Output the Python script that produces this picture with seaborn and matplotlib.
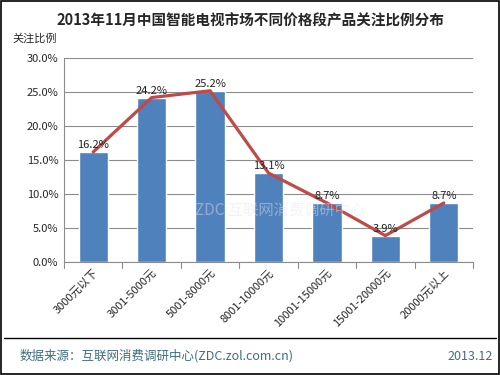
import numpy as np
import pandas as pd
import matplotlib.pyplot as plt
import seaborn as sns

categories = ["3000元以下", "3001-5000元", "5001-8000元", "8001-10000元",
              "10001-15000元", "15001-20000元", "20000元以上"]
shares = [16.2, 24.2, 25.2, 13.1, 8.7, 3.9, 8.7]
yticks = [0, 5, 10, 15, 20, 25, 30]

sns.set_style("white")
plt.rcParams['font.family'] = ['Noto Sans CJK SC', 'DejaVu Sans']

df = pd.DataFrame({"cat": categories, "val": shares})

fig = plt.figure(figsize=(5, 3.75), dpi=100)
ax = fig.add_axes([0.128, 0.301, 0.818, 0.544])

sns.barplot(data=df, x="cat", y="val", color="#4F81BD", width=0.5,
            saturation=1, ax=ax, zorder=2)
sns.lineplot(x=np.arange(len(shares)), y=shares, color="#BE4B48",
             linewidth=2.3, ax=ax, zorder=3)
for i, v in enumerate(shares):
    ax.text(i, v + 0.3, f"{v:.1f}%", ha="center", va="bottom", fontsize=8,
            color="#222222", zorder=4)

ax.set_ylim(0, 30)
ax.set_xlim(-0.5, len(categories) - 0.5)
ax.set_yticks(yticks)
ax.set_yticklabels([f"{t:.1f}%" for t in yticks], fontsize=8)
ax.yaxis.grid(True, color="#8C8C8C", linewidth=0.8, zorder=0)
ax.set_axisbelow(True)
ax.set_xlabel("")
ax.set_ylabel("")
ax.set_xticks(np.arange(len(categories)))
ax.set_xticklabels(categories, rotation=45, ha="right", rotation_mode="anchor",
                   fontsize=8)
ax.tick_params(axis="x", length=0, pad=4)
ax.tick_params(axis="y", length=0, pad=4)
for b in np.arange(-0.5, len(categories), 1.0):
    ax.plot([b, b], [0, -0.8], color="#8C8C8C", linewidth=0.8, clip_on=False)
for s in ["top", "right"]:
    ax.spines[s].set_visible(False)
for s in ["left", "bottom"]:
    ax.spines[s].set_color("#8C8C8C")
    ax.spines[s].set_linewidth(0.8)

fig.text(0.5, 0.945, "2013年11月中国智能电视市场不同价格段产品关注比例分布",
         ha="center", va="center", fontsize=10.5, fontweight="bold")
fig.text(0.025, 0.898, "关注比例", ha="left", va="center", fontsize=8)
# faint watermark
fig.text(0.56, 0.44, "ZDC 互联网消费调研中心", ha="center", va="center",
         fontsize=11, color="#E2E6EC", alpha=0.45, zorder=1)

fig.add_artist(plt.Line2D([0.008, 0.992], [0.099, 0.099], color="black",
                          linewidth=1.0))
fig.text(0.04, 0.05, "数据来源：互联网消费调研中心(ZDC.zol.com.cn)",
         ha="left", va="center", fontsize=9, color="#3F6E80")
fig.text(0.985, 0.05, "2013.12", ha="right", va="center", fontsize=9,
         color="#3F6E80")
fig.patches.append(plt.Rectangle((0.002, 0.003), 0.996, 0.994,
                                 transform=fig.transFigure, fill=False,
                                 edgecolor="black", linewidth=1.2))

fig.savefig("out.png", dpi=100)
